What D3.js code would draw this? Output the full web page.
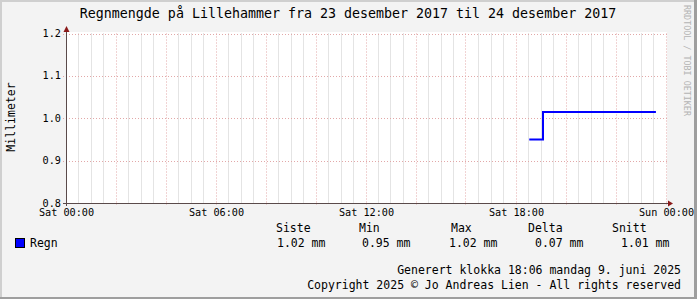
<!DOCTYPE html>
<html>
<head>
<meta charset="utf-8">
<script src="https://cdn.jsdelivr.net/npm/d3@7"></script>
<style>
  body { margin: 0; background: #fff; }
  svg text { font-family: "DejaVu Sans Mono", monospace; fill: #000; }
</style>
</head>
<body>
<div id="chart"></div>
<script>
"use strict";

// rain series (step line), UTC times on 23 Dec 2017
var times = ["2017-12-23T18:33:00Z", "2017-12-23T19:06:00Z", "2017-12-23T23:37:00Z"];
var values = [0.95, 1.015, 1.015];

var yTicks = [0.8, 0.9, 1.0, 1.1, 1.2];
var statHeaders = ["Siste", "Min", "Max", "Delta", "Snitt"];
var statValues = ["1.02 mm", "0.95 mm", "1.02 mm", "0.07 mm", "1.01 mm"];
var seriesName = "Regn";
var title = "Regnmengde på Lillehammer fra 23 desember 2017 til 24 desember 2017";
var yLabel = "Millimeter";
var footer = ["Generert klokka 18:06 mandag 9. juni 2025",
              "Copyright 2025 \u00a9 Jo Andreas Lien - All rights reserved"];

var W = 697, H = 299;
var x0 = 65.5, x1 = 665.5, yTop = 33.5, yBot = 203;

var svg = d3.select("#chart").append("svg")
    .attr("width", W).attr("height", H);

// frame
svg.append("rect").attr("width", W).attr("height", H).attr("fill", "#f3f3f3");
svg.append("path").attr("d", "M0,0H" + W + "V2H2V" + H + "H0Z").attr("fill", "#cfcfcf");
svg.append("path").attr("d", "M" + W + ",0V" + H + "H0V" + (H - 2) + "H" + (W - 3) + "V0Z").attr("fill", "#9e9e9e");

var x = d3.scaleUtc()
    .domain([new Date("2017-12-23T00:00:00Z"), new Date("2017-12-24T00:00:00Z")])
    .range([x0, x1]);
var y = d3.scaleLinear().domain([0.8, 1.2]).range([yBot, yTop]);

// canvas
svg.append("rect").attr("x", 67).attr("y", 32).attr("width", 600).attr("height", yBot - 32)
    .attr("fill", "#fff");

var grid = svg.append("g");
// minor vertical grid every 30 min
grid.selectAll("line.minor")
  .data(x.ticks(d3.utcMinute.every(30)).filter(function(d) { return d.getUTCMinutes() === 30 || d.getUTCHours() % 2 === 1; }))
  .enter().append("line")
    .attr("x1", function(d) { return Math.round(x(d)) + 0.5; })
    .attr("x2", function(d) { return Math.round(x(d)) + 0.5; })
    .attr("y1", yTop).attr("y2", yBot)
    .attr("stroke", "#c8c8c8").attr("stroke-dasharray", "1,1");
// major vertical grid every 2 h
var majors = x.ticks(d3.utcHour.every(2));
grid.selectAll("line.major")
  .data(majors.slice(1))
  .enter().append("line")
    .attr("x1", function(d) { return Math.round(x(d)) + 0.5; })
    .attr("x2", function(d) { return Math.round(x(d)) + 0.5; })
    .attr("y1", yTop).attr("y2", yBot + 2)
    .attr("stroke", "#e2a8a8").attr("stroke-dasharray", "1,2");
// horizontal grid
grid.selectAll("line.h")
  .data(yTicks.slice(1))
  .enter().append("line")
    .attr("x1", 63).attr("x2", 667)
    .attr("y1", function(d) { return Math.round(y(d)) + 0.5; })
    .attr("y2", function(d) { return Math.round(y(d)) + 0.5; })
    .attr("stroke", "#e2a8a8").attr("stroke-dasharray", "1,2");

// data line
var line = d3.line()
    .x(function(d) { return x(new Date(d[0])); })
    .y(function(d) { return y(d[1]); })
    .curve(d3.curveStepAfter);
svg.append("path")
    .datum(times.map(function(t, i) { return [t, values[i]]; }))
    .attr("d", line)
    .attr("fill", "none").attr("stroke", "#0000ff").attr("stroke-width", 2);

// axes
var ax = svg.append("g").attr("stroke", "#5a4a4a");
ax.append("line").attr("x1", 63).attr("x2", 670).attr("y1", yBot + 0.5).attr("y2", yBot + 0.5);
ax.append("line").attr("x1", 66.5).attr("x2", 66.5).attr("y1", yBot + 3).attr("y2", 29);
svg.append("path").attr("d", "M668," + (yBot - 2.5) + "L673," + (yBot + 0.5) + "L668," + (yBot + 3.5) + "Z").attr("fill", "#8b1a1a");
svg.append("path").attr("d", "M63.5,32L66.5,26L69.5,32Z").attr("fill", "#8b1a1a");

// x labels
svg.append("g").selectAll("text")
  .data(x.ticks(d3.utcHour.every(6)))
  .enter().append("text")
    .attr("x", function(d) { return x(d) + 1; })
    .attr("y", 216)
    .attr("text-anchor", "middle")
    .style("font-size", "10.2px")
    .text(d3.utcFormat("%a %H:%M"));

// y labels
svg.append("g").selectAll("text")
  .data(yTicks)
  .enter().append("text")
    .attr("x", 61)
    .attr("y", function(d) { return y(d) + 3.5; })
    .attr("text-anchor", "end")
    .style("font-size", "10.2px")
    .text(d3.format(".1f"));

svg.append("text")
    .attr("transform", "translate(15,117) rotate(-90)")
    .attr("text-anchor", "middle")
    .style("font-size", "11.5px")
    .text(yLabel);

svg.append("text")
    .attr("x", 348).attr("y", 18)
    .attr("text-anchor", "middle")
    .style("font-size", "13.3px")
    .text(title);

svg.append("text")
    .attr("transform", "translate(684,5) rotate(90)")
    .style("font-size", "8.4px")
    .style("fill", "#b4b4b4")
    .text("RRDTOOL / TOBI OETIKER");

// legend
var hx = [276, 359, 451, 528, 612];
var vx = [277, 362, 449, 535, 621];
svg.append("g").selectAll("text")
  .data(statHeaders)
  .enter().append("text")
    .attr("x", function(d, i) { return hx[i]; })
    .attr("y", 232)
    .style("font-size", "11.5px")
    .text(function(d) { return d; });
svg.append("g").selectAll("text")
  .data(statValues)
  .enter().append("text")
    .attr("x", function(d, i) { return vx[i]; })
    .attr("y", 246.5)
    .style("font-size", "11.5px")
    .text(function(d) { return d; });
svg.append("rect").attr("x", 15.5).attr("y", 238.5).attr("width", 9).attr("height", 9)
    .attr("fill", "#0000ff").attr("stroke", "#000");
svg.append("text").attr("x", 30).attr("y", 247).style("font-size", "11.5px").text(seriesName);

svg.append("g").selectAll("text")
  .data(footer)
  .enter().append("text")
    .attr("x", 681)
    .attr("y", function(d, i) { return 274 + i * 15; })
    .attr("text-anchor", "end")
    .style("font-size", "11.5px")
    .text(function(d) { return d; });
</script>
</body>
</html>
